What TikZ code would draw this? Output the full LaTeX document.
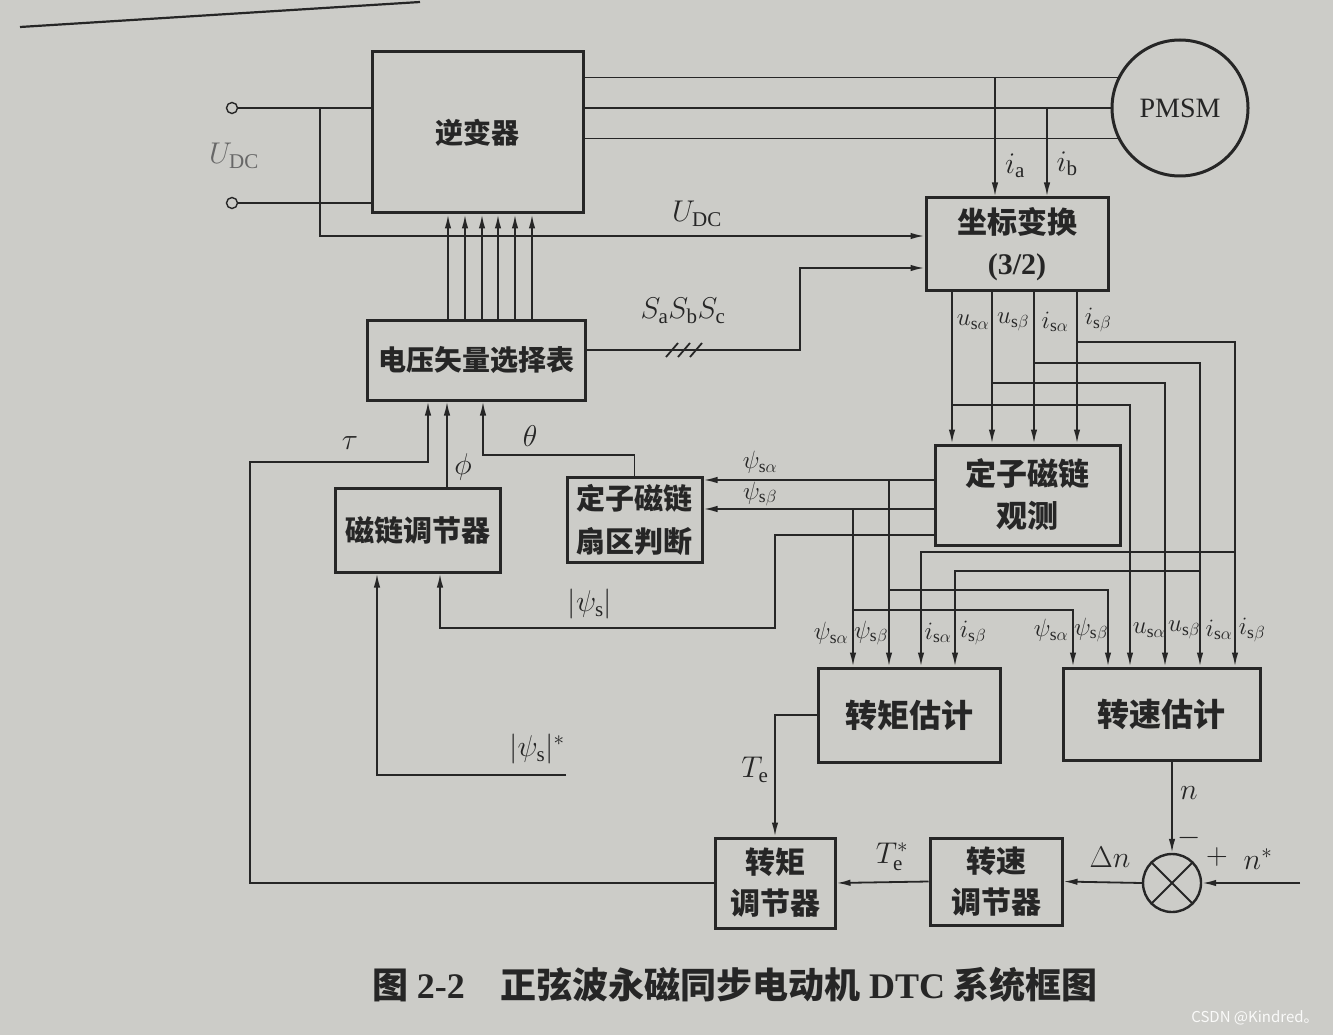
\RequirePackage{fix-cm}
\documentclass[tikz,border=0pt]{standalone}
\usepackage{fontspec}
\setmainfont{Liberation Serif}
\newfontfamily\cjk{Noto Sans CJK SC}
\usetikzlibrary{arrows.meta}

\definecolor{carta}{RGB}{204,204,200}
\definecolor{ink}{RGB}{38,38,38}

\tikzset{
  >={Latex[length=14pt,width=6.5pt]},
  box/.style={draw=ink, line width=3pt, align=center, inner sep=0pt, text=ink,
    font=\cjk\bfseries\fontsize{30}{41}\selectfont},
  wire/.style={draw=ink, line width=1.8pt},
  lab/.style={text=ink, inner sep=0pt, font=\fontsize{30}{30}\selectfont},
  slab/.style={text=ink, inner sep=0pt, font=\fontsize{25}{25}\selectfont},
  term/.style={draw=ink, circle, line width=1.4pt, minimum size=11pt, inner sep=0pt},
}

\begin{document}
\begin{tikzpicture}[x=1pt, y=-1pt]

  \fill[carta] (0,0) rectangle (1333,1035);
  \useasboundingbox (0,0) rectangle (1333,1035);
  \draw[wire, line width=2.2pt] (20,27) -- (420,2);

  % --- blocchi ---
  \node[box, font=\cjk\bfseries\fontsize{28}{28}\selectfont,
        minimum width=211pt, minimum height=161pt] (inv) at (477.5,132.5) {逆变器};
  \node[circle, draw=ink, line width=3pt, minimum size=136pt, inner sep=0pt, text=ink,
        font=\fontsize{28}{28}\selectfont] (pmsm) at (1180,108) {PMSM};
  \node[box, font=\cjk\bfseries\fontsize{28}{28}\selectfont,
        minimum width=218pt, minimum height=80pt] (tab) at (476,360) {电压矢量选择表};
  \node[box, minimum width=182pt, minimum height=92pt] (coord) at (1017,244)
        {坐标变换\\{\rmfamily (3/2)}};
  \node[box, font=\cjk\bfseries\fontsize{31}{42}\selectfont,
        minimum width=185pt, minimum height=100pt] (obs) at (1027.5,495) {定子磁链\\观测};
  \node[box, font=\cjk\bfseries\fontsize{29}{43}\selectfont,
        minimum width=135pt, minimum height=85pt] (sect) at (634.5,519.5) {定子磁链\\扇区判断};
  \node[box, font=\cjk\bfseries\fontsize{29}{29}\selectfont,
        minimum width=165pt, minimum height=84pt] (fluxreg) at (417.5,530) {磁链调节器};
  \node[box, font=\cjk\bfseries\fontsize{32}{32}\selectfont,
        minimum width=182pt, minimum height=94pt] (test) at (909,715) {转矩估计};
  \node[box, font=\cjk\bfseries\fontsize{32}{32}\selectfont,
        minimum width=197pt, minimum height=92pt] (nest) at (1161.5,714) {转速估计};
  \node[box, minimum width=120pt, minimum height=90pt] (tereg) at (775,883) {转矩\\调节器};
  \node[box, minimum width=132pt, minimum height=87pt] (nreg) at (996,881.5) {转速\\调节器};
  \node[circle, draw=ink, line width=2.4pt, minimum size=58pt, inner sep=0pt] (sum) at (1172,883) {};
  \draw[wire, line width=2pt] (sum.45) -- (sum.225) (sum.135) -- (sum.315);

  % --- alimentazione ---
  \node[term] (t1) at (232,108) {};
  \node[term] (t2) at (232,203) {};
  \draw[wire] (t1) -- (inv.west |- t1);
  \draw[wire] (t2) -- (inv.west |- t2);
  \node[lab, text=ink!70] (udc1) at (234,156) {$U_{\mathrm{DC}}$};
  \coordinate (b1) at (320,108);
  \draw[wire, ->] (b1) |- (coord.west |- 0,236);
  \node[lab] (udc2) at (697,214) {$U_{\mathrm{DC}}$};

  % --- fasi verso il motore ---
  \draw[wire] (inv.east |- pmsm.154) -- (pmsm.154);
  \draw[wire] (inv.east |- pmsm.west) -- (pmsm.west);
  \draw[wire] (inv.east |- pmsm.206) -- (pmsm.206);
  \draw[wire, ->] (995,0 |- pmsm.154) -- (coord.north -| 995,0);
  \draw[wire, ->] (1047,0 |- pmsm.west) -- (coord.north -| 1047,0);
  \node[lab] (ia) at (1015,166) {$i_{\mathrm{a}}$};
  \node[lab] (ib) at (1067,164) {$i_{\mathrm{b}}$};

  % --- comandi all'inverter ---
  \draw[wire, ->] (tab.north -| 448,0) -- (inv.south -| 448,0);
  \draw[wire, ->] (tab.north -| 465,0) -- (inv.south -| 465,0);
  \draw[wire, ->] (tab.north -| 482,0) -- (inv.south -| 482,0);
  \draw[wire, ->] (tab.north -| 498,0) -- (inv.south -| 498,0);
  \draw[wire, ->] (tab.north -| 515,0) -- (inv.south -| 515,0);
  \draw[wire, ->] (tab.north -| 532,0) -- (inv.south -| 532,0);

  % --- SaSbSc ---
  \draw[wire, ->] (tab.east |- 0,350) -| (800,268) -- (coord.west |- 0,268);
  \draw[wire] (666,357) -- (678,343) (678,357) -- (690,343) (690,357) -- (702,343);
  \node[lab] (sabc) at (683,311) {$S_{\mathrm{a}}S_{\mathrm{b}}S_{\mathrm{c}}$};

  % --- tau, phi, theta ---
  \draw[wire, ->] (tereg.west) -| (250,462) -| (tab.south -| 428,0);
  \node[lab] (tau) at (350,443) {$\tau$};
  \draw[wire, ->] (fluxreg.north -| 447,0) -- (tab.south -| 447,0);
  \node[lab] (phi) at (463,467) {$\phi$};
  \draw[wire, ->] (sect.north) |- (483,455) -- (tab.south -| 483,0);
  \node[lab] (theta) at (530,436) {$\theta$};

  % --- uscite osservatore ---
  \draw[wire, ->] (obs.west |- 0,480) -- (sect.east |- 0,480);
  \draw[wire, ->] (obs.west |- 0,509) -- (sect.east |- 0,509);
  \node[slab] (psa1) at (760,462) {$\psi_{\mathrm{s}\alpha}$};
  \node[slab] (psb1) at (760,494) {$\psi_{\mathrm{s}\beta}$};
  \draw[wire, ->] (obs.west |- 0,535) -| (775,628) -| (fluxreg.south -| 440,0);
  \node[lab] (psabs) at (590,604) {$|\psi_{\mathrm{s}}|$};
  \coordinate (fref) at (566,775);
  \draw[wire, ->] (fref) -| (fluxreg.south -| 377,0);
  \node[lab] (psref) at (537,749) {$|\psi_{\mathrm{s}}|^{*}$};

  % --- uscite 3/2 ---
  \draw[wire, ->] (coord.south -| 952,0) -- (obs.north -| 952,0);
  \draw[wire, ->] (coord.south -| 992,0) -- (obs.north -| 992,0);
  \draw[wire, ->] (coord.south -| 1034,0) -- (obs.north -| 1034,0);
  \draw[wire, ->] (coord.south -| 1077,0) -- (obs.north -| 1077,0);
  \node[slab] (usa1) at (973,322) {$u_{\mathrm{s}\alpha}$};
  \node[slab] (usb1) at (1013,322) {$u_{\mathrm{s}\beta}$};
  \node[slab] (isa1) at (1055,322) {$i_{\mathrm{s}\alpha}$};
  \node[slab] (isb1) at (1098,320) {$i_{\mathrm{s}\beta}$};

  % --- verso stima velocita' ---
  \coordinate (jisb) at (1077,342);
  \coordinate (jisa) at (1034,363);
  \coordinate (jusb) at (992,383);
  \coordinate (jusa) at (952,405);
  \draw[wire, ->] (jisb) -| (nest.north -| 1235,0);
  \draw[wire, ->] (jisa) -| (nest.north -| 1200,0);
  \draw[wire, ->] (jusb) -| (nest.north -| 1165,0);
  \draw[wire, ->] (jusa) -| (nest.north -| 1130,0);

  % --- verso stima coppia ---
  \coordinate (kisb) at (1235,552);
  \coordinate (kisa) at (1200,571);
  \coordinate (kpsa) at (889,480);
  \coordinate (kpsb) at (853,509);
  \draw[wire, ->] (kisb) -| (test.north -| 921,0);
  \draw[wire, ->] (kisa) -| (test.north -| 955,0);
  \draw[wire, ->] (kpsa) -- (test.north -| 889,0);
  \draw[wire, ->] (kpsb) -- (test.north -| 853,0);
  \draw[wire, ->] (889,590) -| (nest.north -| 1108,0);
  \draw[wire, ->] (853,610) -| (nest.north -| 1073,0);

  \node[slab] (psa2) at (831,633) {$\psi_{\mathrm{s}\alpha}$};
  \node[slab] (psb2) at (871,633) {$\psi_{\mathrm{s}\beta}$};
  \node[slab] (isa2) at (938,633) {$i_{\mathrm{s}\alpha}$};
  \node[slab] (isb2) at (973,633) {$i_{\mathrm{s}\beta}$};
  \node[slab] (psa3) at (1051,630) {$\psi_{\mathrm{s}\alpha}$};
  \node[slab] (psb3) at (1091,630) {$\psi_{\mathrm{s}\beta}$};
  \node[slab] (usa3) at (1149,630) {$u_{\mathrm{s}\alpha}$};
  \node[slab] (usb3) at (1184,630) {$u_{\mathrm{s}\beta}$};
  \node[slab] (isa3) at (1219,630) {$i_{\mathrm{s}\alpha}$};
  \node[slab] (isb3) at (1252,630) {$i_{\mathrm{s}\beta}$};

  % --- anello di velocita' e coppia ---
  \draw[wire, ->] (test.west) -| (tereg.north);
  \node[lab] (te) at (755,770) {$T_{\mathrm{e}}$};
  \draw[wire, ->] (nest.south -| sum.north) -- (sum.north);
  \node[lab] (n) at (1189,793) {$n$};
  \node[lab] (minus) at (1189,838) {$-$};
  \coordinate (nin) at (1300,883);
  \draw[wire, ->] (nin) -- (sum.east);
  \node[lab] (plus) at (1217,857) {$+$};
  \node[lab] (nref) at (1258,859) {$n^{*}$};
  \draw[wire, ->] (sum.west) -- (nreg.east);
  \node[lab] (dn) at (1110,857) {$\Delta n$};
  \draw[wire, ->] (nreg.west) -- (tereg.east);
  \node[lab] (teref) at (892,857) {$T_{\mathrm{e}}^{*}$};

  % --- didascalia ---
  \node[text=ink, font=\cjk\bfseries\fontsize{36}{36}\selectfont] (cap) at (735,985)
    {图 {\rmfamily 2-2}\hspace{36pt}正弦波永磁同步电动机 {\rmfamily DTC} 系统框图};
  \node[text=white!90!carta, font=\cjk\fontsize{15}{15}\selectfont] (wm) at (1255,1018)
    {CSDN @Kindred。};

\end{tikzpicture}
\end{document}
